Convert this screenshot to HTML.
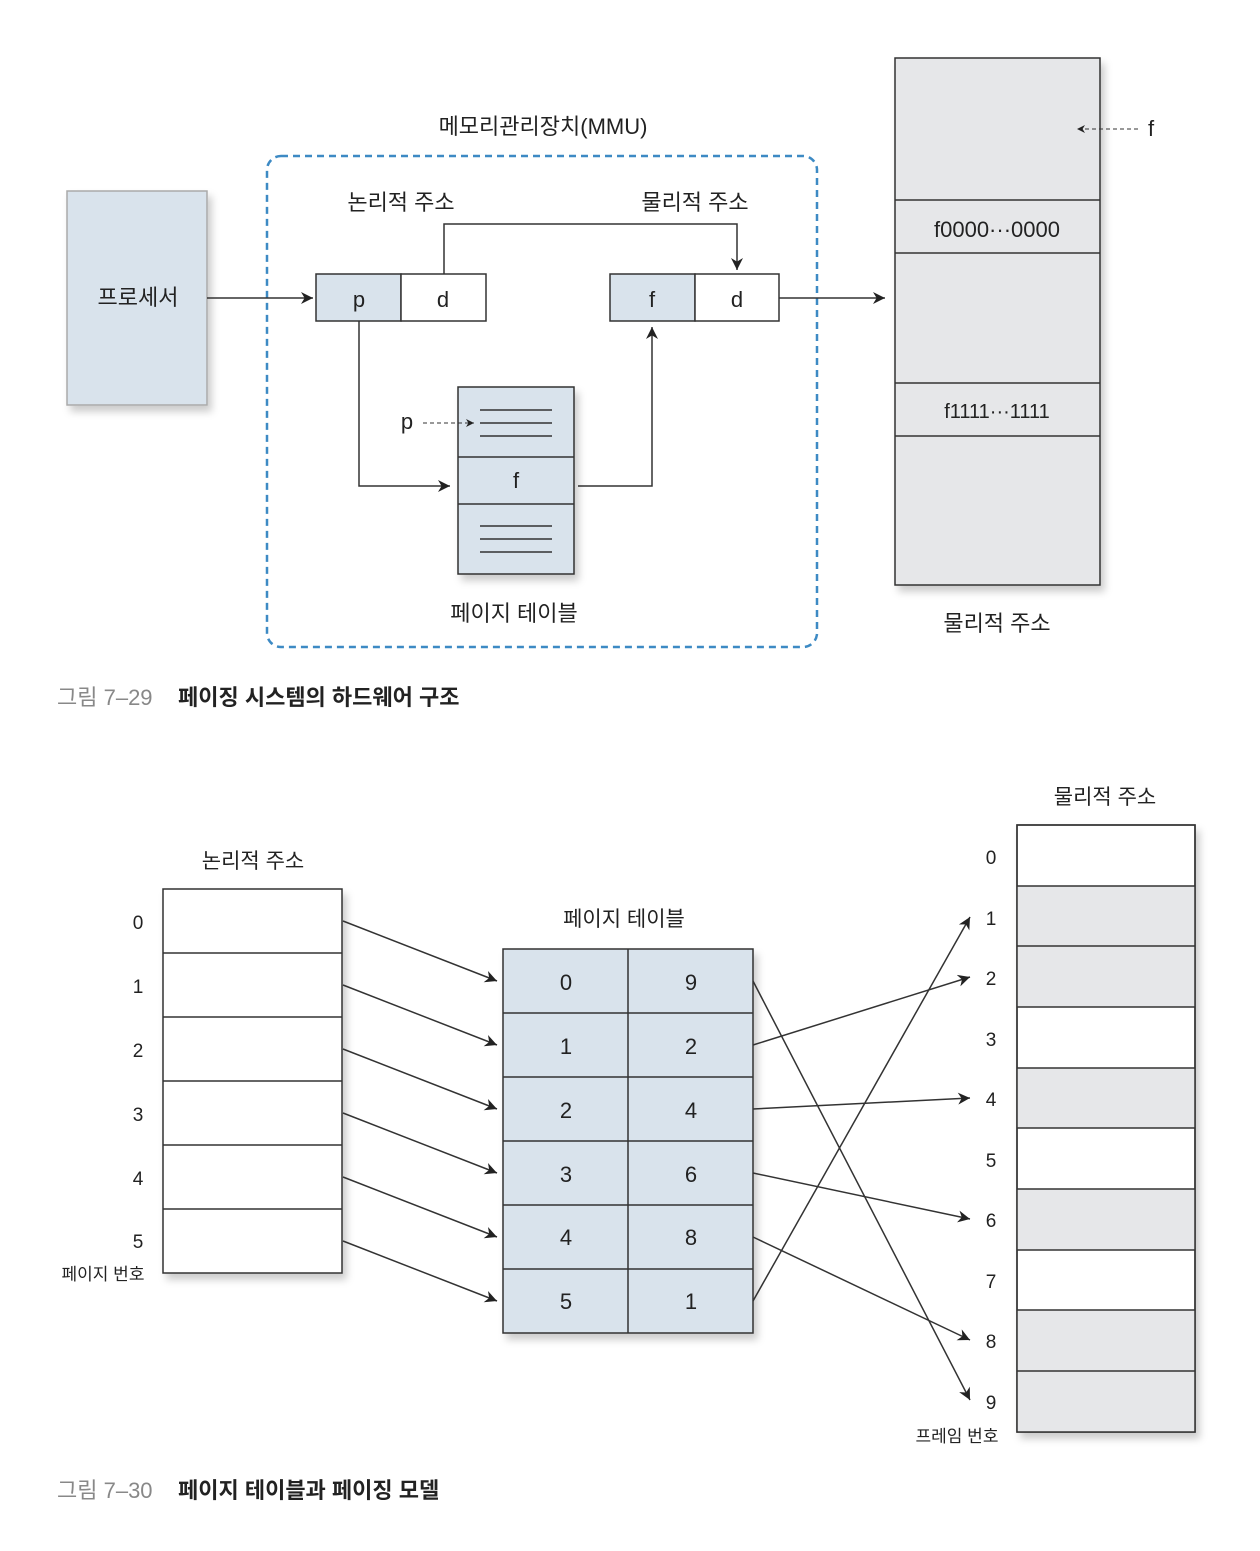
<!DOCTYPE html>
<html><head><meta charset="utf-8"><style>
body{margin:0;background:#fff}
text{font-family:"Liberation Sans","Noto Sans CJK KR",sans-serif;fill:#222}
</style></head><body>
<svg width="1260" height="1546" viewBox="0 0 1260 1546" xmlns="http://www.w3.org/2000/svg">
<defs>
<marker id="a" viewBox="0 0 10 10" refX="10" refY="5" markerWidth="16" markerHeight="12" markerUnits="userSpaceOnUse" orient="auto"><path d="M0,0 L10,5 L0,10 L3,5 z" fill="#222"/></marker>
<marker id="s" viewBox="0 0 10 10" refX="10" refY="5" markerWidth="10" markerHeight="8" markerUnits="userSpaceOnUse" orient="auto"><path d="M0,0 L10,5 L0,10 L3,5 z" fill="#222"/></marker>
<filter id="sh" x="-10%" y="-10%" width="130%" height="130%"><feDropShadow dx="4" dy="6" stdDeviation="4" flood-color="#000" flood-opacity="0.2"/></filter>
</defs>
<g stroke="#333" stroke-width="1.5" font-size="22">
<rect x="67" y="191" width="140" height="214" fill="#d9e3ec" stroke="#aaa" filter="url(#sh)"/>
<text x="138" y="305" text-anchor="middle" stroke="none">프로세서</text>
<rect x="267" y="156" width="550" height="491" rx="14" fill="none" stroke="#3d8ac4" stroke-width="2.5" stroke-dasharray="7,5"/>
<text x="543" y="134" text-anchor="middle" stroke="none">메모리관리장치(MMU)</text>
<text x="401" y="210" text-anchor="middle" stroke="none">논리적 주소</text>
<text x="695" y="210" text-anchor="middle" stroke="none">물리적 주소</text>
<line x1="207" y1="298" x2="313" y2="298" marker-end="url(#a)"/>
<rect x="316" y="274" width="85" height="47" fill="#d9e3ec"/>
<rect x="401" y="274" width="85" height="47" fill="#fff"/>
<text x="359" y="307" text-anchor="middle" stroke="none">p</text>
<text x="443" y="307" text-anchor="middle" stroke="none">d</text>
<rect x="610" y="274" width="85" height="47" fill="#d9e3ec"/>
<rect x="695" y="274" width="84" height="47" fill="#fff"/>
<text x="652" y="307" text-anchor="middle" stroke="none">f</text>
<text x="737" y="307" text-anchor="middle" stroke="none">d</text>
<polyline points="444,274 444,224 737,224 737,270" fill="none" marker-end="url(#a)"/>
<line x1="779" y1="298" x2="885" y2="298" marker-end="url(#a)"/>
<polyline points="359,321 359,486 450,486" fill="none" marker-end="url(#a)"/>
<polyline points="578,486 652,486 652,327" fill="none" marker-end="url(#a)"/>
<rect x="458" y="387" width="116" height="187" fill="#d9e3ec" filter="url(#sh)"/>
<line x1="458" y1="457" x2="574" y2="457"/><line x1="458" y1="504" x2="574" y2="504"/>
<line x1="480" y1="410" x2="552" y2="410"/><line x1="480" y1="423" x2="552" y2="423"/><line x1="480" y1="436" x2="552" y2="436"/>
<line x1="480" y1="526" x2="552" y2="526"/><line x1="480" y1="539" x2="552" y2="539"/><line x1="480" y1="552" x2="552" y2="552"/>
<text x="516" y="488" text-anchor="middle" stroke="none">f</text>
<text x="407" y="429" text-anchor="middle" stroke="none">p</text>
<line x1="423" y1="423" x2="474" y2="423" stroke-width="1" stroke-dasharray="4,3" marker-end="url(#s)"/>
<text x="514" y="621" text-anchor="middle" stroke="none">페이지 테이블</text>
<rect x="895" y="58" width="205" height="527" fill="#e6e7e9" filter="url(#sh)"/>
<line x1="895" y1="200" x2="1100" y2="200"/><line x1="895" y1="253" x2="1100" y2="253"/>
<line x1="895" y1="383" x2="1100" y2="383"/><line x1="895" y1="436" x2="1100" y2="436"/>
<text x="997" y="237" text-anchor="middle" stroke="none">f0000···0000</text>
<text x="997" y="418" text-anchor="middle" stroke="none" font-size="20">f1111···1111</text>
<line x1="1138" y1="129" x2="1077" y2="129" stroke-width="1" stroke-dasharray="4,3" marker-end="url(#s)"/>
<text x="1151" y="136" text-anchor="middle" stroke="none">f</text>
<text x="997" y="631" text-anchor="middle" stroke="none">물리적 주소</text>
</g>
<text x="57" y="705" font-size="22" style="fill:#888">그림 7–29</text>
<text x="178" y="705" font-size="22" font-weight="bold">페이징 시스템의 하드웨어 구조</text>

<g stroke="#333" stroke-width="1.5" font-size="21">
<text x="253" y="868" text-anchor="middle" stroke="none">논리적 주소</text>
<rect x="163" y="889" width="179" height="384" fill="#fff" filter="url(#sh)"/>
<line x1="163" y1="953" x2="342" y2="953"/><line x1="163" y1="1017" x2="342" y2="1017"/><line x1="163" y1="1081" x2="342" y2="1081"/><line x1="163" y1="1145" x2="342" y2="1145"/><line x1="163" y1="1209" x2="342" y2="1209"/>
<g stroke="none" font-size="19" text-anchor="middle">
<text x="138" y="929">0</text><text x="138" y="993">1</text><text x="138" y="1057">2</text><text x="138" y="1121">3</text><text x="138" y="1185">4</text><text x="138" y="1248">5</text>
<text x="103" y="1280" font-size="17">페이지 번호</text>
</g>
<g marker-end="url(#a)">
<line x1="343" y1="921" x2="497" y2="981"/><line x1="343" y1="985" x2="497" y2="1045"/><line x1="343" y1="1049" x2="497" y2="1109"/><line x1="343" y1="1113" x2="497" y2="1173"/><line x1="343" y1="1177" x2="497" y2="1237"/><line x1="343" y1="1241" x2="497" y2="1301"/>
</g>
<text x="624" y="926" text-anchor="middle" stroke="none">페이지 테이블</text>
<rect x="503" y="949" width="250" height="384" fill="#d9e3ec" filter="url(#sh)"/>
<line x1="628" y1="949" x2="628" y2="1333"/>
<line x1="503" y1="1013" x2="753" y2="1013"/><line x1="503" y1="1077" x2="753" y2="1077"/><line x1="503" y1="1141" x2="753" y2="1141"/><line x1="503" y1="1205" x2="753" y2="1205"/><line x1="503" y1="1269" x2="753" y2="1269"/>
<g stroke="none" font-size="22" text-anchor="middle">
<text x="566" y="990">0</text><text x="691" y="990">9</text>
<text x="566" y="1054">1</text><text x="691" y="1054">2</text>
<text x="566" y="1118">2</text><text x="691" y="1118">4</text>
<text x="566" y="1182">3</text><text x="691" y="1182">6</text>
<text x="566" y="1245">4</text><text x="691" y="1245">8</text>
<text x="566" y="1309">5</text><text x="691" y="1309">1</text>
</g>
<g marker-end="url(#a)">
<line x1="753" y1="981" x2="970" y2="1400"/>
<line x1="753" y1="1045" x2="970" y2="977"/>
<line x1="753" y1="1109" x2="970" y2="1098"/>
<line x1="753" y1="1173" x2="970" y2="1219"/>
<line x1="753" y1="1237" x2="970" y2="1340"/>
<line x1="753" y1="1301" x2="970" y2="917"/>
</g>
<text x="1105" y="804" text-anchor="middle" stroke="none">물리적 주소</text>
<rect x="1017" y="825" width="178" height="607" fill="#fff" filter="url(#sh)"/>
<rect x="1017" y="886" width="178" height="121" fill="#e6e7e9" stroke="none"/>
<rect x="1017" y="1068" width="178" height="60" fill="#e6e7e9" stroke="none"/>
<rect x="1017" y="1189" width="178" height="61" fill="#e6e7e9" stroke="none"/>
<rect x="1017" y="1310" width="178" height="122" fill="#e6e7e9" stroke="none"/>
<rect x="1017" y="825" width="178" height="607" fill="none"/>
<line x1="1017" y1="886" x2="1195" y2="886"/><line x1="1017" y1="946" x2="1195" y2="946"/><line x1="1017" y1="1007" x2="1195" y2="1007"/><line x1="1017" y1="1068" x2="1195" y2="1068"/><line x1="1017" y1="1128" x2="1195" y2="1128"/><line x1="1017" y1="1189" x2="1195" y2="1189"/><line x1="1017" y1="1250" x2="1195" y2="1250"/><line x1="1017" y1="1310" x2="1195" y2="1310"/><line x1="1017" y1="1371" x2="1195" y2="1371"/>
<g stroke="none" font-size="19" text-anchor="middle">
<text x="991" y="864">0</text><text x="991" y="925">1</text><text x="991" y="985">2</text><text x="991" y="1046">3</text><text x="991" y="1106">4</text><text x="991" y="1167">5</text><text x="991" y="1227">6</text><text x="991" y="1288">7</text><text x="991" y="1348">8</text><text x="991" y="1409">9</text>
<text x="957" y="1442" font-size="17">프레임 번호</text>
</g>
</g>
<text x="57" y="1498" font-size="22" style="fill:#888">그림 7–30</text>
<text x="178" y="1498" font-size="22" font-weight="bold">페이지 테이블과 페이징 모델</text>
</svg>
</body></html>
